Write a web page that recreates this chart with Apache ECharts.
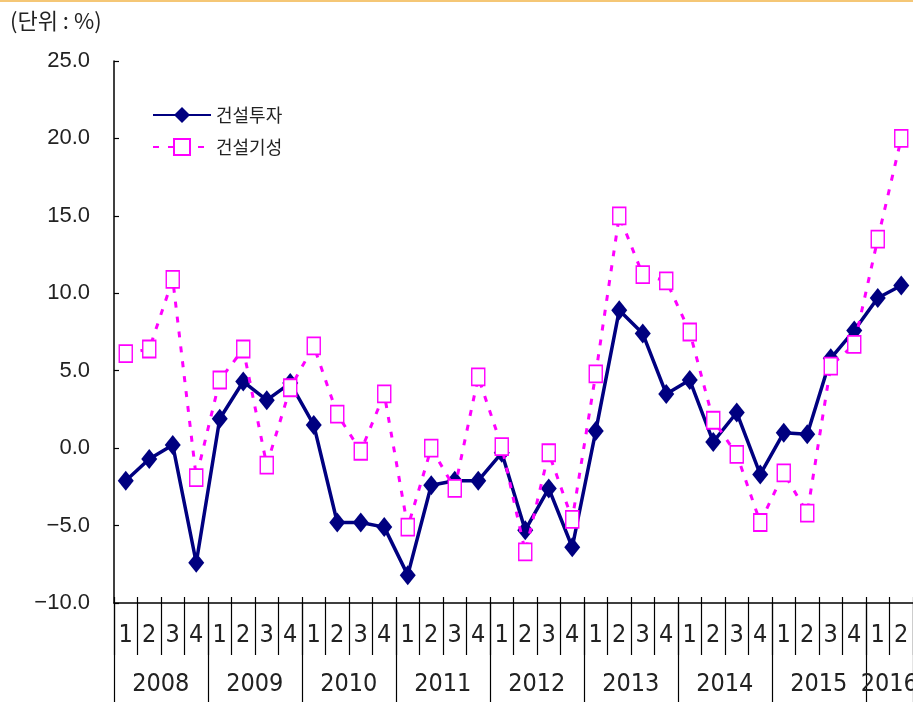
<!DOCTYPE html>
<html>
<head>
<meta charset="utf-8">
<script src="https://cdn.jsdelivr.net/npm/echarts@6/dist/echarts.min.js"></script>
<style>
  html, body { margin: 0; padding: 0; background: #fff; }
  #wrap { position: relative; width: 913px; height: 702px; }
  #chart { width: 913px; height: 702px; }
  #rule { position: absolute; left: 0; top: 0; width: 913px; height: 2px; background: #f5c776; }
</style>
</head>
<body>
<div id="wrap">
  <div id="chart"></div>
  <div id="rule"></div>
</div>
<script>
// Year groups and how many quarters each one covers
const years = ['2008', '2009', '2010', '2011', '2012', '2013', '2014', '2015', '2016'];
const quartersPerYear = [4, 4, 4, 4, 4, 4, 4, 4, 2];

// Year-on-year change (%), quarterly, 2008 Q1 - 2016 Q2
const investment = [
  -2.1, -0.7, 0.2, -7.4,
  1.9, 4.3, 3.1, 4.2,
  1.5, -4.8, -4.8, -5.1,
  -8.2, -2.4, -2.1, -2.1,
  -0.3, -5.3, -2.6, -6.4,
  1.1, 8.9, 7.4, 3.5,
  4.4, 0.4, 2.3, -1.7,
  1.0, 0.9, 5.8, 7.6,
  9.7, 10.5
];
const output = [
  6.1, 6.4, 10.9, -1.9,
  4.4, 6.4, -1.1, 3.9,
  6.6, 2.2, -0.2, 3.5,
  -5.1, 0.0, -2.6, 4.6,
  0.1, -6.7, -0.3, -4.6,
  4.8, 15.0, 11.2, 10.8,
  7.5, 1.8, -0.4, -4.8,
  -1.6, -4.2, 5.3, 6.7,
  13.5, 20.0
];

const seriesNames = ['건설투자', '건설기성'];
const unitLabel = '(단위 : %)';

// Build one category per quarter, e.g. "2008|1"
const categories = [];
const quarterLabels = [];
years.forEach((y, i) => {
  for (let q = 1; q <= quartersPerYear[i]; q++) {
    categories.push(y + '|' + q);
    quarterLabels.push(String(q));
  }
});
// index of the category on whose right edge each year label is centred
const yearLabelIndex = {};
const yearStart = {};
let start = 0;
years.forEach((y, i) => {
  const n = quartersPerYear[i];
  yearStart[start] = true;
  yearLabelIndex[start + n / 2 - 1] = y;
  start += n;
});

const axisFont = "'Liberation Sans Narrow', 'DejaVu Sans Condensed', 'Liberation Sans', Arial, sans-serif";
const textColor = '#222';

const chart = echarts.init(document.getElementById('chart'), null, { renderer: 'canvas' });

chart.setOption({
  animation: false,
  backgroundColor: '#fff',
  title: {
    text: unitLabel,
    left: 5,
    top: 5,
    textStyle: { fontSize: 22, fontWeight: 'normal', color: textColor, fontFamily: "'Noto Sans CJK KR', sans-serif" }
  },
  legend: {
    data: seriesNames,
    orient: 'vertical',
    left: 147,
    top: 101,
    itemWidth: 58,
    itemHeight: 20,
    itemGap: 14,
    textStyle: { fontSize: 18, color: textColor, fontFamily: "'Noto Sans CJK KR', sans-serif" }
  },
  grid: { left: 114, right: 0, top: 61, bottom: 99, containLabel: false, outerBoundsMode: 'none' },
  xAxis: [
    {
      // quarter row
      type: 'category',
      data: categories,
      position: 'bottom',
      boundaryGap: true,
      axisLine: { show: true, onZero: false, lineStyle: { color: '#000', width: 1.5 } },
      axisTick: { show: true, interval: 0, length: 52, lineStyle: { color: '#000', width: 1.2 } },
      axisLabel: {
        interval: 0,
        margin: 20,
        fontSize: 25,
        fontFamily: axisFont,
        color: textColor,
        formatter: (v, i) => quarterLabels[i]
      },
      splitLine: { show: false }
    },
    {
      // year row
      type: 'category',
      data: categories,
      position: 'bottom',
      boundaryGap: true,
      axisLine: { show: false, onZero: false },
      axisTick: {
        show: true,
        interval: (i) => !!yearStart[i],
        length: 99,
        lineStyle: { color: '#000', width: 1.2 }
      },
      axisLabel: {
        interval: (i) => yearLabelIndex[i] !== undefined,
        margin: 69,
        fontSize: 25,
        fontFamily: axisFont,
        color: textColor,
        padding: [0, 0, 0, 23],
        formatter: (v) => v.split('|')[0]
      },
      splitLine: { show: false }
    },
    {
      // short tick stubs above the baseline
      type: 'category',
      data: categories,
      position: 'bottom',
      boundaryGap: true,
      axisLine: { show: false, onZero: false },
      axisTick: { show: true, inside: true, interval: 0, length: 6, lineStyle: { color: '#000', width: 1.2 } },
      axisLabel: { show: false },
      splitLine: { show: false }
    }
  ],
  yAxis: {
    type: 'value',
    min: -10,
    max: 25,
    interval: 5,
    axisLine: { show: true, onZero: false, lineStyle: { color: '#000', width: 1.5 } },
    axisTick: { show: true, inside: true, length: 5, lineStyle: { color: '#000', width: 1.2 } },
    splitLine: { show: false },
    axisLabel: {
      margin: 24,
      fontSize: 22,
      color: textColor,
      fontFamily: "'Liberation Sans', Arial, sans-serif",
      formatter: (v) => (v < 0 ? '\u2212' + Math.abs(v).toFixed(1) : v.toFixed(1))
    }
  },
  series: [
    {
      name: seriesNames[0],
      type: 'line',
      xAxisIndex: 0,
      data: investment,
      symbol: 'diamond',
      symbolSize: [16, 20],
      lineStyle: { color: '#000080', width: 3.5 },
      itemStyle: { color: '#000080' },
      z: 2
    },
    {
      name: seriesNames[1],
      type: 'line',
      xAxisIndex: 0,
      data: output,
      symbol: 'rect',
      symbolSize: [13, 17],
      showAllSymbol: true,
      lineStyle: { color: '#ff00ff', width: 3, type: [6, 9] },
      itemStyle: { color: '#ffffff', borderColor: '#ff00ff', borderWidth: 1.6 },
      z: 3
    }
  ]
});
</script>
</body>
</html>
